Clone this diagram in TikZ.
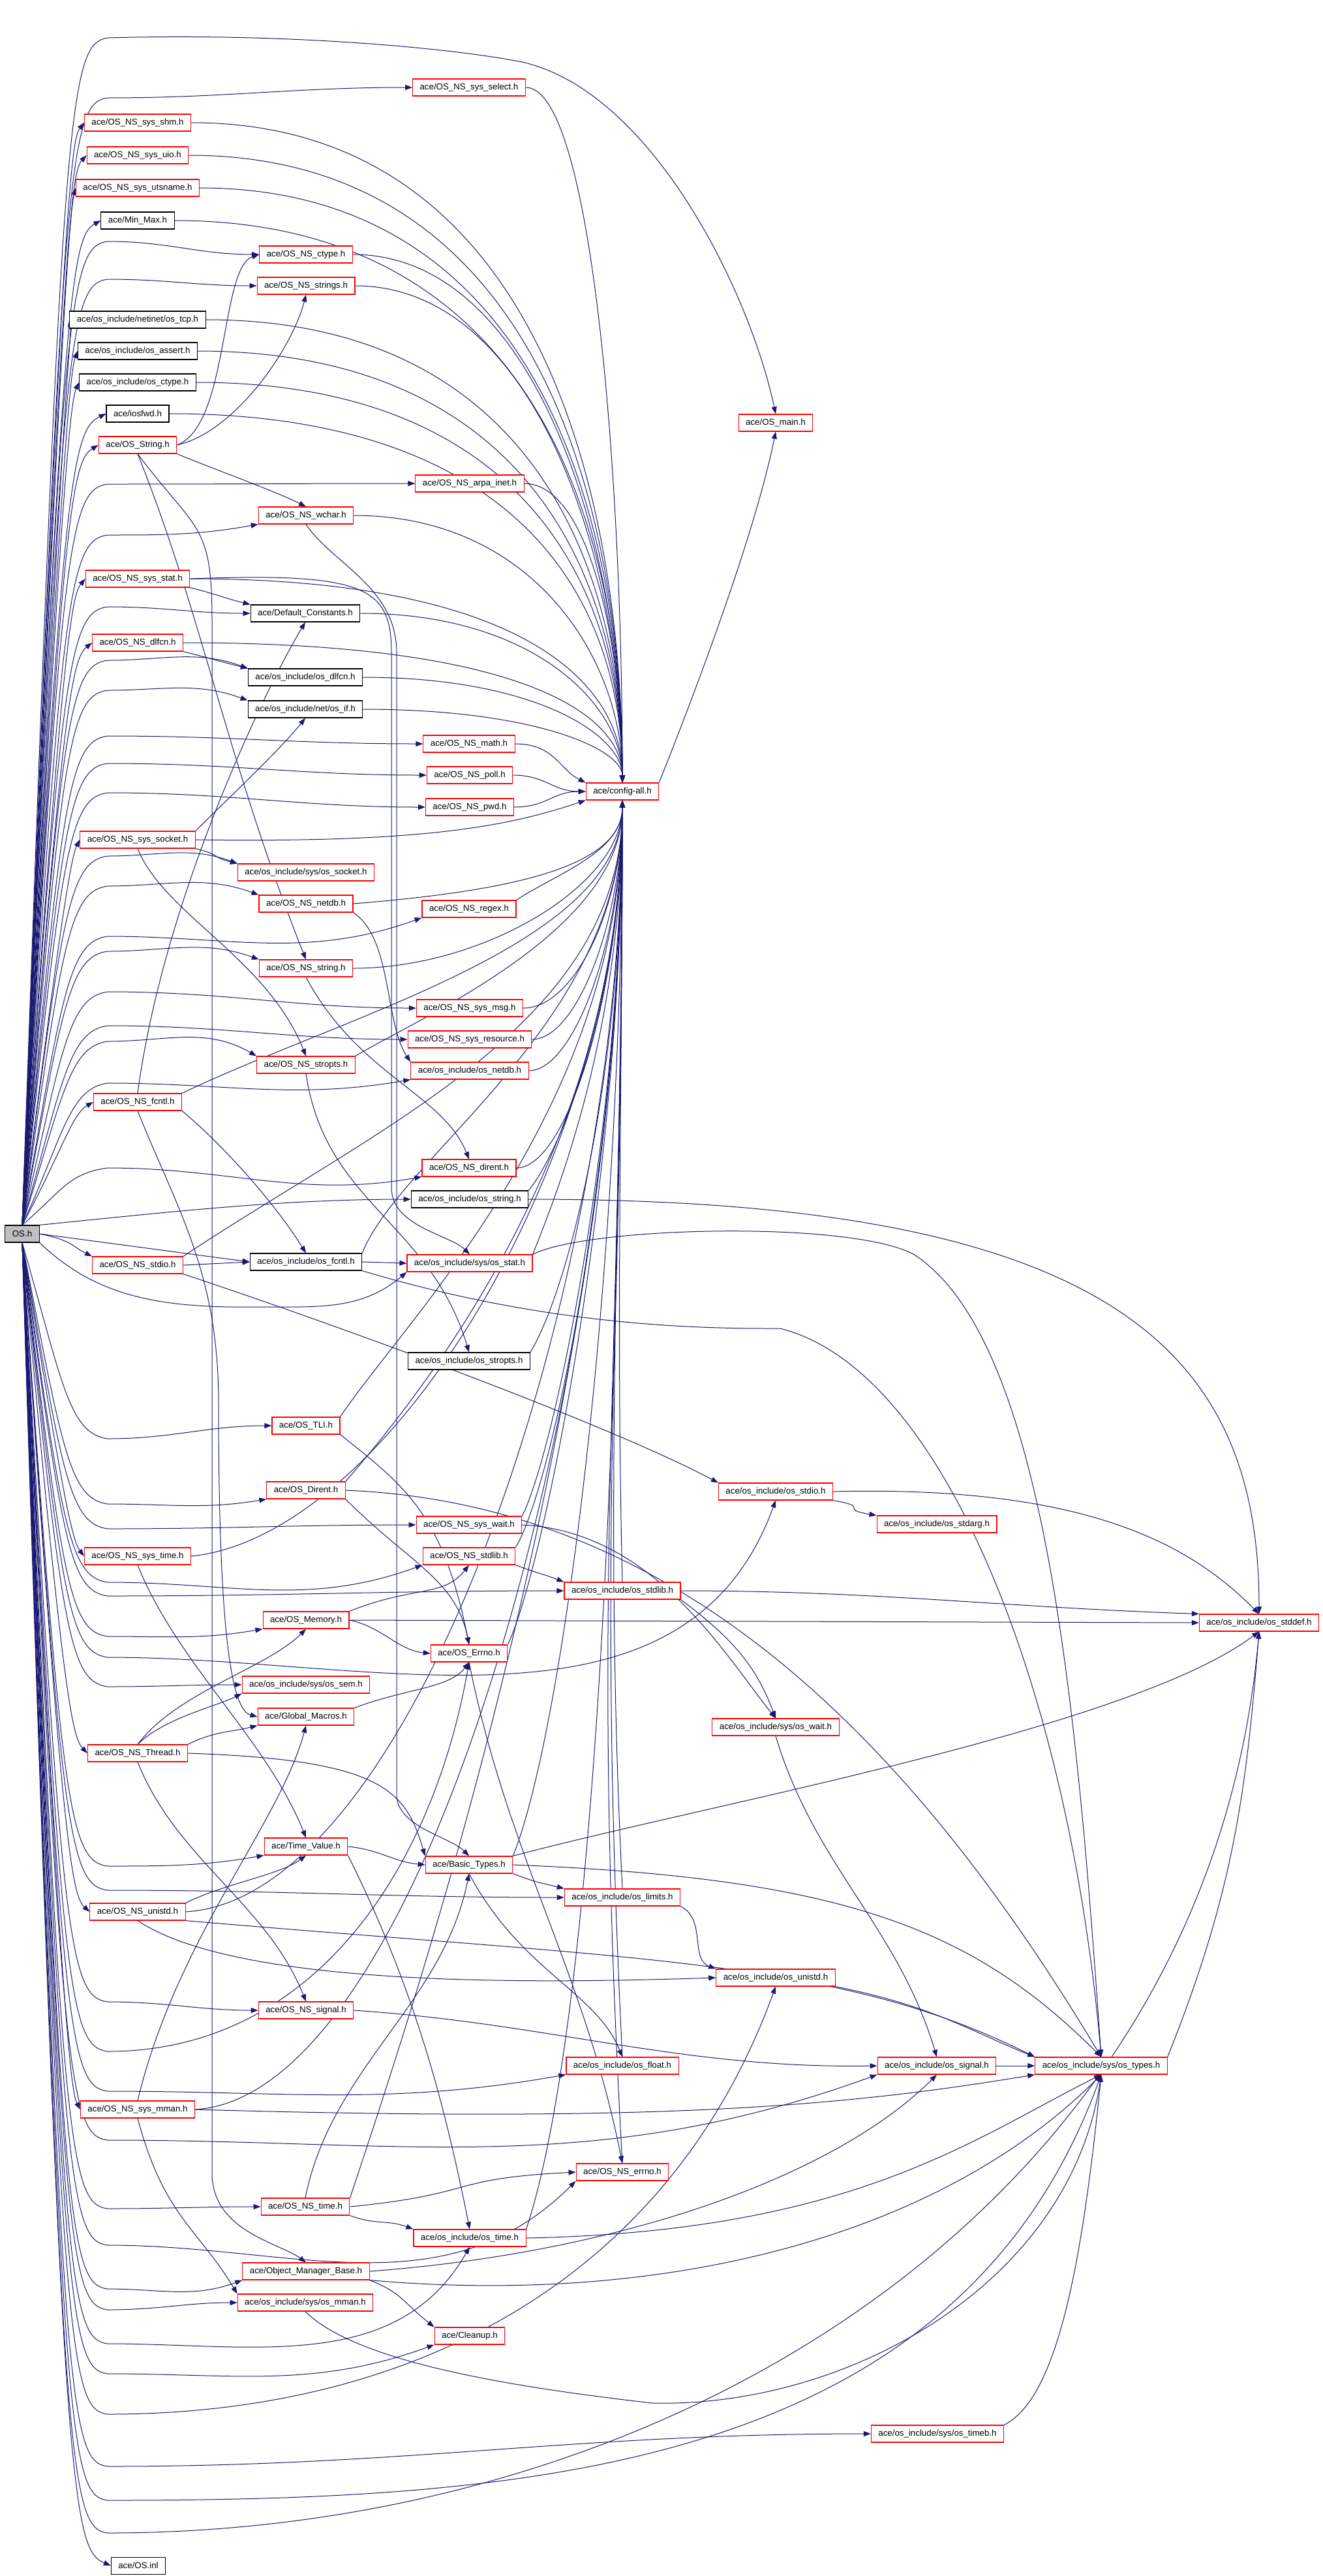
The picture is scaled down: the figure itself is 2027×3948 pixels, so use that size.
\documentclass[tikz,border=0pt]{standalone}
\usepackage{fontspec}
\setmainfont{Liberation Sans}
\usetikzlibrary{arrows.meta}
\definecolor{eblue}{RGB}{25,25,112}
\definecolor{gfill}{RGB}{191,191,191}
\pgfdeclarelayer{bg}
\pgfsetlayers{bg,main}
\tikzset{
 nb/.style={draw=red, line width=1.1pt, fill=white, rectangle, inner xsep=11pt, inner ysep=0pt, minimum height=26pt, font=\fontsize{13.3}{15}\selectfont},
 bk/.style={nb, draw=black},
 e/.style={draw=eblue, line width=1pt, -{Triangle[length=11pt,width=8pt]}},
}
% OS.h -> rank-1 node above / below
\newcommand\Ra[2]{\draw[e] (OSh.north) .. controls (95,{#2+min(100,0.4*(1878-#2))}) and (110,{#2+min(25,0.1*(1878-#2))}) .. (#1.west);}
\newcommand\Rb[2]{\draw[e] (OSh.south) .. controls (95,{#2-min(100,0.4*(#2-1904))}) and (110,{#2-min(25,0.1*(#2-1904))}) .. (#1.west);}
% OS.h -> far node via lane
\newcommand\Oa[5]{\draw[e] (OSh.north) .. controls (95,{#2+min(90,0.4*(1878-#2))}) and (105,{#2+8}) .. (165,#2) .. controls +(#3,0) and +(#4) .. (#1.#5);}
\newcommand\Ob[5]{\draw[e] (OSh.south) .. controls (95,{#2-min(90,0.4*(#2-1904))}) and (105,{#2-8}) .. (165,#2) .. controls +(#3,0) and +(#4) .. (#1.#5);}
% -> config-all.h from above / below
\newcommand\Ca[3]{\draw[e] (#1.east) .. controls +(#2,0) and +(0,-#3) .. (config.north);}
\newcommand\Cb[3]{\draw[e] (#1) .. controls +(#2) and +(0,#3) .. (config.south);}
\begin{document}
\begin{tikzpicture}[x=1pt,y=-1pt]
\useasboundingbox (0,0) rectangle (2027,3948);
% rank 0
\node[bk, fill=gfill] (OSh) at (34,1891) {OS.h};
% rank 1
\node[nb] (shm) at (211,188) {ace/OS\_NS\_sys\_shm.h};
\node[nb] (uio) at (211,238) {ace/OS\_NS\_sys\_uio.h};
\node[nb] (utsname) at (211,288) {ace/OS\_NS\_sys\_utsname.h};
\node[bk] (MinMax) at (211,338) {ace/Min\_Max.h};
\node[bk] (tcp) at (211,490) {ace/os\_include/netinet/os\_tcp.h};
\node[bk] (assert) at (211,538) {ace/os\_include/os\_assert.h};
\node[bk] (octype) at (211,586) {ace/os\_include/os\_ctype.h};
\node[bk] (iosfwd) at (211,634) {ace/iosfwd.h};
\node[nb] (String) at (211,682) {ace/OS\_String.h};
\node[nb] (sysstat) at (211,887) {ace/OS\_NS\_sys\_stat.h};
\node[nb] (dlfcnNS) at (211,985) {ace/OS\_NS\_dlfcn.h};
\node[nb] (syssocket) at (211,1287) {ace/OS\_NS\_sys\_socket.h};
\node[nb] (fcntlNS) at (211,1689) {ace/OS\_NS\_fcntl.h};
\node[nb] (stdioNS) at (211,1939) {ace/OS\_NS\_stdio.h};
\node[nb] (systime) at (211,2385) {ace/OS\_NS\_sys\_time.h};
\node[nb] (Thread) at (211,2687) {ace/OS\_NS\_Thread.h};
\node[nb] (unistdNS) at (211,2930) {ace/OS\_NS\_unistd.h};
\node[nb] (sysmman) at (211,3233) {ace/OS\_NS\_sys\_mman.h};
\node[bk] (inl) at (212,3932) {ace/OS.inl};
% rank 2
\node[nb] (ctype) at (469,390) {ace/OS\_NS\_ctype.h};
\node[nb] (strings) at (469,438) {ace/OS\_NS\_strings.h};
\node[nb] (wchar) at (469,790) {ace/OS\_NS\_wchar.h};
\node[bk] (DefConst) at (468,940) {ace/Default\_Constants.h};
\node[bk] (osdlfcn) at (468,1038) {ace/os\_include/os\_dlfcn.h};
\node[bk] (osif) at (468,1087) {ace/os\_include/net/os\_if.h};
\node[nb] (ossocket) at (469,1337) {ace/os\_include/sys/os\_socket.h};
\node[nb] (netdbNS) at (469,1385) {ace/OS\_NS\_netdb.h};
\node[nb] (stringNS) at (469,1484) {ace/OS\_NS\_string.h};
\node[nb] (stroptsNS) at (469,1632) {ace/OS\_NS\_stropts.h};
\node[bk] (osfcntl) at (469,1934) {ace/os\_include/os\_fcntl.h};
\node[nb] (TLI) at (469,2185) {ace/OS\_TLI.h};
\node[nb] (Dirent) at (469,2284) {ace/OS\_Dirent.h};
\node[nb] (Memory) at (469,2483) {ace/OS\_Memory.h};
\node[nb] (ossem) at (469,2582) {ace/os\_include/sys/os\_sem.h};
\node[nb] (GlobMac) at (469,2631) {ace/Global\_Macros.h};
\node[nb] (TimeVal) at (469,2830) {ace/Time\_Value.h};
\node[nb] (signalNS) at (469,3081) {ace/OS\_NS\_signal.h};
\node[nb] (timeNS) at (468,3382) {ace/OS\_NS\_time.h};
\node[nb] (OMB) at (469,3481) {ace/Object\_Manager\_Base.h};
\node[nb] (osmman) at (468,3529) {ace/os\_include/sys/os\_mman.h};
% rank 3
\node[nb] (select) at (719,134) {ace/OS\_NS\_sys\_select.h};
\node[nb] (arpa) at (720,741) {ace/OS\_NS\_arpa\_inet.h};
\node[nb] (math) at (719,1140) {ace/OS\_NS\_math.h};
\node[nb] (poll) at (720,1188) {ace/OS\_NS\_poll.h};
\node[nb] (pwd) at (720,1237) {ace/OS\_NS\_pwd.h};
\node[nb] (regex) at (719,1393) {ace/OS\_NS\_regex.h};
\node[nb] (sysmsg) at (720,1545) {ace/OS\_NS\_sys\_msg.h};
\node[nb] (sysres) at (720,1593) {ace/OS\_NS\_sys\_resource.h};
\node[nb] (osnetdb) at (720,1641) {ace/os\_include/os\_netdb.h};
\node[nb] (direntNS) at (719,1790) {ace/OS\_NS\_dirent.h};
\node[bk] (osstring) at (720,1838) {ace/os\_include/os\_string.h};
\node[nb] (osstat) at (720,1936) {ace/os\_include/sys/os\_stat.h};
\node[bk] (osstropts) at (719,2086) {ace/os\_include/os\_stropts.h};
\node[nb] (syswait) at (719,2337) {ace/OS\_NS\_sys\_wait.h};
\node[nb] (stdlibNS) at (719,2385) {ace/OS\_NS\_stdlib.h};
\node[nb] (Errno) at (719,2534) {ace/OS\_Errno.h};
\node[nb] (BasicT) at (719,2858) {ace/Basic\_Types.h};
\node[nb] (ostime) at (720,3430) {ace/os\_include/os\_time.h};
\node[nb] (Cleanup) at (720,3580) {ace/Cleanup.h};
% rank 4
\node[nb] (config) at (954,1213) {ace/config-all.h};
\node[nb] (osstdlib) at (954,2438) {ace/os\_include/os\_stdlib.h};
\node[nb] (oslimits) at (954,2908) {ace/os\_include/os\_limits.h};
\node[nb] (osfloat) at (954,3166) {ace/os\_include/os\_float.h};
\node[nb] (errnoNS) at (954,3329) {ace/OS\_NS\_errno.h};
% rank 5
\node[nb] (OSmain) at (1189,648) {ace/OS\_main.h};
\node[nb] (osstdio) at (1189,2286) {ace/os\_include/os\_stdio.h};
\node[nb] (oswait) at (1189,2647) {ace/os\_include/sys/os\_wait.h};
\node[nb] (osunistd) at (1189,3031) {ace/os\_include/os\_unistd.h};
% rank 6
\node[nb] (osstdarg) at (1436,2336) {ace/os\_include/os\_stdarg.h};
\node[nb] (ossignal) at (1436,3166) {ace/os\_include/os\_signal.h};
\node[nb] (ostimeb) at (1437,3730) {ace/os\_include/sys/os\_timeb.h};
% rank 7, 8
\node[nb] (ostypes) at (1688,3166) {ace/os\_include/sys/os\_types.h};
\node[nb] (osstddef) at (1930,2487) {ace/os\_include/os\_stddef.h};

\begin{pgfonlayer}{bg}
\fill[white] (0,0) rectangle (2027,3948);
% ---- OS.h edges ----
\Ra{shm}{188}\Ra{uio}{238}\Ra{utsname}{288}\Ra{MinMax}{338}\Ra{tcp}{490}
\Ra{assert}{538}\Ra{octype}{586}\Ra{iosfwd}{634}\Ra{String}{682}\Ra{sysstat}{887}
\Ra{dlfcnNS}{985}\Ra{syssocket}{1287}\Ra{fcntlNS}{1689}
\Rb{systime}{2385}\Rb{Thread}{2687}\Rb{unistdNS}{2930}\Rb{sysmman}{3233}\Rb{inl}{3932}
\Oa{select}{150}{182}{-182,0}{west}
\draw[e] (OSh.north) .. controls (95,150) and (105,68) .. (165,58) .. controls (450,50) and (700,75) .. (800,95) .. controls (1000,140) and (1150,450) .. (OSmain.north);
\Oa{ctype}{370}{92}{-92,0}{west}
\Oa{strings}{428}{90}{-90,0}{west}
\Oa{arpa}{742}{184}{-184,0}{west}
\Oa{wchar}{820}{90}{-89,16}{south west}
\Oa{DefConst}{930}{86}{-86,0}{west}
\Oa{osdlfcn}{1012}{84}{-79,-29}{north west}
\Oa{osif}{1058}{84}{-79,-29}{north west}
\Oa{math}{1128}{189}{-189,0}{west}
\Oa{poll}{1170}{191}{-191,0}{west}
\Oa{pwd}{1215}{190}{-190,0}{west}
\Oa{ossocket}{1312}{78}{-73,-27}{north west}
\Oa{netdbNS}{1358}{90}{-85,-31}{north west}
\Oa{regex}{1435}{188}{-177,64}{south west}
\Oa{stringNS}{1458}{90}{-85,-31}{north west}
\Oa{sysmsg}{1520}{185}{-185,0}{west}
\Oa{sysres}{1572}{179}{-179,0}{west}
\Oa{stroptsNS}{1596}{90}{-78,-45}{north west}
\Oa{osnetdb}{1660}{181}{-178,31}{south west}
\Oa{direntNS}{1790}{188}{-185,33}{south west}
\draw[e] (OSh.north east) .. controls +(200,-20) and +(-200,0) .. (osstring.west);
\draw[e] (OSh.east) -- (osfcntl.west);
\draw[e] (OSh.east) .. controls +(50,10) and +(-30,-15) .. (stdioNS.north west);
\draw[e] (OSh.south east) .. controls (150,1990) and (250,2005) .. (400,2003) .. controls +(90,0) and +(-69,58) .. (osstat.south west);
\Ob{TLI}{2205}{98}{-98,0}{west}
\Ob{Dirent}{2305}{95}{-94,16}{south west}
\Ob{syswait}{2343}{184}{-184,0}{west}
\Ob{stdlibNS}{2425}{189}{-178,65}{south west}
\Ob{osstdlib}{2446}{272}{-272,0}{west}
\Ob{Memory}{2508}{93}{-92,16}{south west}
\Ob{osstdio}{2540}{410}{-140,385}{south}
\Ob{ossem}{2585}{80}{-80,0}{west}
\Ob{TimeVal}{2860}{93}{-92,16}{south west}
\Ob{oslimits}{2897}{272}{-272,0}{west}
\Ob{signalNS}{3068}{90}{-90,0}{west}
\Ob{Errno}{3144}{318}{-55,313}{south}
\Ob{osfloat}{3205}{274}{-270,48}{south west}
\Ob{ossignal}{3280}{462}{-434,158}{south west}
\Ob{timeNS}{3385}{92}{-92,0}{west}
\Ob{errnoNS}{3441}{283}{-200,200}{south west}
\Ob{OMB}{3508}{81}{-76,28}{south west}
\Ob{osmman}{3540}{78}{-78,0}{west}
\Ob{ostime}{3592}{224}{-112,195}{south}
\Ob{Cleanup}{3638}{196}{-184,67}{south west}
\Ob{osunistd}{3700}{474}{-162,445}{south}
\Ob{ostimeb}{3780}{457}{-457,0}{west}
\Ob{ostypes}{3832}{646}{-221,607}{south}
\Ob{osstddef}{3882}{874}{-76,871}{south}
% ---- into config-all.h ----
\Ca{shm}{525}{455}\Ca{uio}{530}{433}\Ca{utsname}{514}{410}\Ca{MinMax}{552}{388}
\Ca{tcp}{505}{320}\Ca{assert}{516}{298}\Ca{octype}{520}{276}\Ca{iosfwd}{560}{255}
\Ca{ctype}{280}{365}\Ca{strings}{275}{343}\Ca{wchar}{278}{185}\Ca{sysstat}{529}{141}
\Ca{DefConst}{268}{117}\Ca{dlfcnNS}{539}{97}\Ca{osdlfcn}{264}{73}\Ca{osif}{264}{51}
\Ca{select}{100}{480}\Ca{arpa}{100}{207}
\draw[e] (math.east) .. controls +(60,0) and +(-40,-20) .. (config.north west);
\draw[e] (poll.east) .. controls +(50,0) and +(-50,0) .. (config.west);
\draw[e] (pwd.east) .. controls +(50,0) and +(-50,0) .. (config.west);
\draw[e] (syssocket.east) .. controls +(350,5) and +(-120,40) .. (config.south west);
\Cb{netdbNS.east}{250,-20}{100}
\Cb{regex.north east}{60,-40}{80}
\Cb{stringNS.east}{200,0}{130}
\Cb{sysmsg.east}{80,0}{160}
\Cb{sysres.east}{70,0}{180}
\Cb{osnetdb.east}{70,0}{210}
\Cb{stroptsNS.north east}{100,-60}{200}
\Cb{fcntlNS.north east}{250,-120}{220}
\Cb{direntNS.east}{80,0}{280}
\Cb{osstring.north east}{50,-60}{300}
\Cb{stdioNS.north east}{300,-200}{340}
\Cb{osfcntl.north east}{60,-150}{340}
\Cb{osstat.north east}{40,-100}{350}
\Cb{osstropts.north east}{60,-100}{420}
\Cb{TLI.north east}{100,-150}{470}
\Cb{Dirent.north east}{130,-150}{520}
\Cb{syswait.north east}{50,-100}{500}
\Cb{stdlibNS.north east}{60,-100}{520}
\Cb{systime.east}{300,-30}{550}
\Cb{Errno.north east}{50,-100}{600}
\Cb{BasicT.north east}{80,-200}{700}
\Cb{unistdNS.east}{350,-20}{750}
\Cb{sysmman.east}{350,-20}{900}
\Cb{timeNS.north east}{100,-300}{900}
\Cb{osstdlib.north}{-10,-400}{400}
\Cb{oslimits.north}{-30,-600}{600}
\Cb{osfloat.north}{-40,-800}{800}
\Cb{errnoNS.north}{-50,-900}{900}
\Cb{ostime.north east}{100,-300}{1000}
\draw[e] (config.north east) .. controls +(60,-150) and +(-30,150) .. (OSmain.south);
% ---- other edges ----
\draw[e] (String.east) .. controls +(80,-30) and +(-60,20) .. (ctype.west);
\draw[e] (String.east) .. controls +(90,-20) and +(-20,80) .. (strings.south);
\draw[e] (String.south east) .. controls +(60,25) and +(-50,-25) .. (wchar.north);
\draw[e] (String.south) .. controls +(100,250) and +(-120,-300) .. (stringNS.north);
\draw[e] (String.south) .. controls +(90,120) and (325,800) .. (325,950) -- (325,3330) .. controls (325,3420) and +(-40,-30) .. (OMB.north);
\draw[e] (sysstat.south east) .. controls +(40,10) and +(-40,-10) .. (DefConst.north west);
\draw[e] (sysstat.east) .. controls (560,877) and (600,900) .. (600,1000) -- (600,1820) .. controls (600,1880) and +(-30,-30) .. (osstat.north);
\draw[e] (wchar.south) .. controls +(40,60) and (608,900) .. (608,1000) -- (608,2750) .. controls (608,2800) and +(-30,-30) .. (BasicT.north);
\draw[e] (dlfcnNS.south east) .. controls +(40,10) and +(-40,-10) .. (osdlfcn.north west);
\draw[e] (syssocket.north east) .. controls +(50,-50) and +(-40,50) .. (osif.south);
\draw[e] (syssocket.south east) .. controls +(40,10) and +(-40,-10) .. (ossocket.north west);
\draw[e] (syssocket.south) .. controls +(40,100) and +(-60,-150) .. (stroptsNS.north);
\draw[e] (netdbNS.south east) .. controls +(60,40) and +(-40,-60) .. (osnetdb.north west);
\draw[e] (stringNS.south) .. controls +(80,150) and +(-40,-100) .. (direntNS.north);
\draw[e] (stroptsNS.south) .. controls +(30,200) and +(-60,-200) .. (osstropts.north);
\draw[e] (fcntlNS.south east) .. controls +(60,50) and +(-50,-80) .. (osfcntl.north);
\draw[e] (fcntlNS.north) .. controls +(40,-300) and +(-60,100) .. (DefConst.south);
\draw[e] (fcntlNS.south) .. controls +(60,150) and (335,1950) .. (335,2150) .. controls (335,2500) and +(-40,-10) .. (GlobMac.west);
\draw[e] (osstring.east) .. controls +(900,0) and +(0,-400) .. (osstddef.north);
\draw[e] (stdioNS.east) -- (osfcntl.west);
\draw[e] (stdioNS.south east) .. controls +(300,100) and +(-150,-80) .. (osstdio.north west);
\draw[e] (osfcntl.east) -- (osstat.west);
\draw[e] (osfcntl.south east) .. controls +(300,90) and (1100,2036) .. (1196,2036) .. controls (1450,2100) and (1640,2600) .. (ostypes.north);
\draw[e] (osstat.north east) .. controls (900,1880) and (1300,1870) .. (1400,1922) .. controls (1600,2050) and (1650,2600) .. (ostypes.north);
\draw[e] (TLI.south east) .. controls +(100,80) and +(-40,-200) .. (Errno.north);
\draw[e] (Dirent.south east) .. controls +(100,100) and +(-20,-100) .. (Errno.north);
\draw[e] (Dirent.east) .. controls +(500,20) and +(-300,-500) .. (ostypes.north);
\draw[e] (syswait.east) .. controls +(200,10) and +(-80,-100) .. (oswait.north);
\draw[e] (stdlibNS.south east) .. controls +(40,15) and +(-40,-15) .. (osstdlib.north west);
\draw[e] (systime.south) .. controls +(60,150) and +(-60,-150) .. (TimeVal.north);
\draw[e] (Memory.north east) .. controls +(100,-40) and +(-40,50) .. (stdlibNS.south);
\draw[e] (Memory.east) .. controls +(50,10) and +(-50,-5) .. (Errno.west);
\draw[e] (Memory.east) -- (osstddef.west);
\draw[e] (Errno.south) .. controls +(60,300) and +(-60,-300) .. (errnoNS.north);
\draw[e] (GlobMac.north east) .. controls +(80,-30) and +(-30,40) .. (Errno.south);
\draw[e] (Thread.north) .. controls +(40,-40) and +(-40,20) .. (ossem.south west);
\draw[e] (Thread.north east) .. controls +(40,-20) and +(-40,10) .. (GlobMac.south west);
\draw[e] (Thread.north) .. controls +(60,-80) and +(-60,60) .. (Memory.south);
\draw[e] (Thread.south) .. controls +(60,150) and +(-60,-150) .. (signalNS.north);
\draw[e] (Thread.east) .. controls +(300,10) and +(-30,-100) .. (BasicT.north west);
\draw[e] (TimeVal.east) .. controls +(50,5) and +(-50,-5) .. (BasicT.west);
\draw[e] (TimeVal.south east) .. controls +(100,200) and +(-40,-200) .. (ostime.north);
\draw[e] (BasicT.south east) .. controls +(40,15) and +(-40,-10) .. (oslimits.north west);
\draw[e] (BasicT.south) .. controls +(80,150) and +(-40,-100) .. (osfloat.north);
\draw[e] (BasicT.east) .. controls +(500,20) and +(-200,-200) .. (ostypes.north);
\draw[e] (BasicT.north east) .. controls +(300,-80) and +(-200,150) .. (osstddef.south);
\draw[e] (oslimits.south east) .. controls +(40,20) and +(-40,-15) .. (osunistd.north west);
\draw[e] (unistdNS.north east) .. controls +(60,-30) and +(-40,30) .. (TimeVal.south);
\draw[e] (unistdNS.south) .. controls +(150,100) and +(-300,10) .. (osunistd.west);
\draw[e] (unistdNS.south east) .. controls +(700,60) and +(-300,-150) .. (ostypes.north west);
\draw[e] (signalNS.east) .. controls +(300,20) and +(-300,5) .. (ossignal.west);
\draw[e] (sysmman.north) .. controls +(60,-250) and +(-40,150) .. (GlobMac.south);
\draw[e] (sysmman.south) .. controls +(40,150) and +(-60,-100) .. (osmman.north west);
\draw[e] (sysmman.east) .. controls +(700,20) and +(-300,50) .. (ostypes.south west);
\draw[e] (timeNS.east) .. controls +(200,-20) and +(-200,10) .. (errnoNS.west);
\draw[e] (timeNS.south east) .. controls +(40,15) and +(-40,-15) .. (ostime.north west);
\draw[e] (timeNS.north) .. controls +(40,-200) and +(-40,200) .. (BasicT.south);
\draw[e] (ostime.east) .. controls +(500,-10) and +(-200,100) .. (ostypes.south);
\draw[e] (OMB.south east) .. controls +(50,20) and +(-50,-40) .. (Cleanup.north west);
\draw[e] (OMB.east) .. controls +(400,-30) and +(-150,150) .. (ossignal.south);
\draw[e] (OMB.south east) .. controls +(450,40) and +(-250,250) .. (ostypes.south);
\draw[e] (osmman.south) .. controls +(80,80) and (800,3660) .. (1000,3683) .. controls (1300,3690) and (1640,3500) .. (ostypes.south);
\draw[e] (ostimeb.north east) .. controls +(80,-40) and +(-30,300) .. (ostypes.south);
\draw[e] (osstdio.south east) .. controls +(60,10) and +(-60,-10) .. (osstdarg.north west);
\draw[e] (osstdio.east) .. controls +(400,-10) and +(-100,-100) .. (osstddef.north);
\draw[e] (osstdlib.east) .. controls +(300,0) and +(-300,-10) .. (osstddef.north west);
\draw[e] (osstdlib.south east) .. controls +(80,60) and +(-30,-80) .. (oswait.north);
\draw[e] (oswait.south) .. controls +(60,200) and +(-60,-200) .. (ossignal.north);
\draw[e] (osunistd.south east) .. controls +(150,30) and +(-100,-40) .. (ostypes.north west);
\draw[e] (ossignal.east) -- (ostypes.west);
\draw[e] (ostypes.north east) .. controls +(100,-250) and +(-20,250) .. (osstddef.south);
\end{pgfonlayer}
\end{tikzpicture}
\end{document}
